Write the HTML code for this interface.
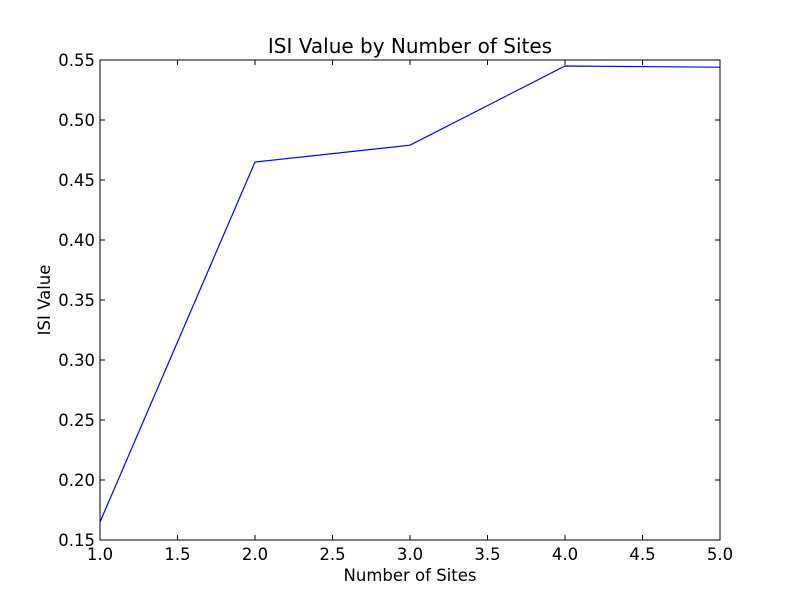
<!DOCTYPE html>
<html><head><meta charset="utf-8"><style>
body{margin:0;background:#fff;}
svg text{font-family:"DejaVu Sans","Liberation Sans",sans-serif;fill:#000;}
</style></head><body>
<svg id="chart" width="800" height="600" xmlns="http://www.w3.org/2000/svg">
<rect width="800" height="600" fill="#fff"/>
<text x="410" y="53" font-size="20" text-anchor="middle">ISI Value by Number of Sites</text>
<text x="410" y="581" font-size="16.5" text-anchor="middle">Number of Sites</text>
<text transform="translate(50,300) rotate(-90)" font-size="16.5" text-anchor="middle">ISI Value</text>
</svg>
<script>
const sites = [1, 2, 3, 4, 5];
const isiValues = [0.165, 0.465, 0.479, 0.545, 0.544];
const xTicks = ["1.0","1.5","2.0","2.5","3.0","3.5","4.0","4.5","5.0"];
const yTicks = ["0.15","0.20","0.25","0.30","0.35","0.40","0.45","0.50","0.55"];
const L=100,R=720,T=60,B=540,xMin=1,xMax=5,yMin=0.15,yMax=0.55;
const xs=v=>L+(v-xMin)/(xMax-xMin)*(R-L);
const ys=v=>B-(v-yMin)/(yMax-yMin)*(B-T);
const NS="http://www.w3.org/2000/svg";
const svg=document.getElementById('chart');
function mk(t,a){const e=document.createElementNS(NS,t);for(const k in a)e.setAttribute(k,a[k]);svg.appendChild(e);return e;}
xTicks.forEach(t=>{const x=xs(parseFloat(t));
 const a=mk('line',{x1:x,x2:x,y1:B,y2:B-5,stroke:'#000'});
 
 
 const b=mk('line',{x1:x,x2:x,y1:T,y2:T+5,stroke:'#000'});
 
 
 const l=mk('text',{x:x,y:B+20,'font-size':16.5,'text-anchor':'middle'});l.textContent=t;
 
 
});
yTicks.forEach(t=>{const y=ys(parseFloat(t));
 const a=mk('line',{x1:L,x2:L+5,y1:y,y2:y,stroke:'#000'});
 
 
 const b=mk('line',{x1:R,x2:R-5,y1:y,y2:y,stroke:'#000'});
 
 
 const l=mk('text',{x:L-5,y:y+6,'font-size':16.5,'text-anchor':'end'});l.textContent=t;
 
 
});
const line=mk('polyline',{points:sites.map((s,i)=>xs(s)+','+ys(isiValues[i])).join(' '),fill:'none',stroke:'#0000ff','stroke-width':1.2});


const frame=mk('rect',{x:L,y:T,width:R-L,height:B-T,fill:'none',stroke:'#000','stroke-width':1});


</script>
</body></html>
